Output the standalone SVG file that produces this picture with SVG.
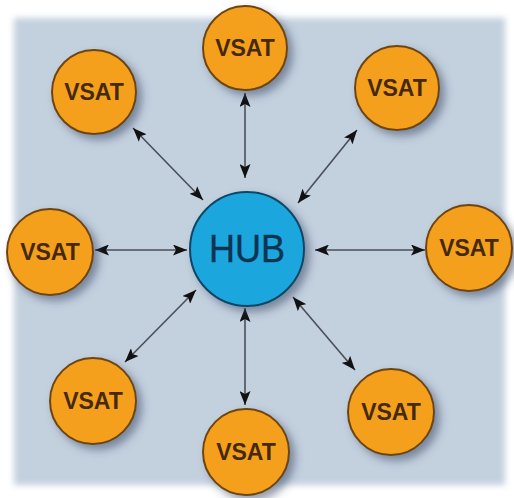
<svg xmlns="http://www.w3.org/2000/svg" width="514" height="498" viewBox="0 0 514 498">
<style>
.vsat circle{fill:#f5a01f;stroke:#6e4510;stroke-width:2}
.vsat text{font-family:"Liberation Sans",Arial,sans-serif;font-weight:bold;font-size:23px;fill:#45290a;text-anchor:middle}
.hub circle{fill:#1fa6de;stroke:#0c4766;stroke-width:2}
.hub text{font-family:"Liberation Sans",Arial,sans-serif;font-size:38px;fill:#0e3450;text-anchor:middle;stroke:#0e3450;stroke-width:0.4}
#connectors line{stroke:#4a4f58;stroke-width:1.6;marker-start:url(#ah);marker-end:url(#ah)}
</style>
<defs>
<filter id="panelblur" x="-5%" y="-5%" width="110%" height="110%"><feGaussianBlur stdDeviation="3"/></filter>
<filter id="sh" x="-30%" y="-30%" width="170%" height="170%">
<feGaussianBlur in="SourceAlpha" stdDeviation="4"/>
<feOffset dx="5" dy="5" result="b"/>
<feFlood flood-color="#3a4a66" flood-opacity="0.55"/>
<feComposite in2="b" operator="in"/>
<feMerge><feMergeNode/><feMergeNode in="SourceGraphic"/></feMerge>
</filter>
<marker id="ah" viewBox="0 0 14 11" refX="14" refY="5.5" markerWidth="14" markerHeight="11" markerUnits="userSpaceOnUse" orient="auto-start-reverse">
<path d="M0,0 L14,5.5 L0,11 L3,5.5 Z" fill="#111"/>
</marker>
</defs>
<rect width="514" height="498" fill="#ffffff"/>
<rect x="14" y="18" width="491" height="467" fill="#c3d0de" filter="url(#panelblur)"/>
<g id="connectors">
<line x1="245" y1="93" x2="245" y2="178"/>
<line x1="133" y1="128" x2="203" y2="200"/>
<line x1="357" y1="130" x2="298" y2="203"/>
<line x1="95" y1="250" x2="187" y2="250"/>
<line x1="315" y1="250" x2="425" y2="250"/>
<line x1="196" y1="290" x2="125" y2="362"/>
<line x1="245" y1="308" x2="245" y2="405"/>
<line x1="293" y1="297" x2="355" y2="370"/>
</g>
<g id="hub" class="hub"><circle cx="247" cy="249" r="57" filter="url(#sh)"/><text x="247" y="262" textLength="76" lengthAdjust="spacingAndGlyphs">HUB</text></g>
<g id="vsat-top" class="vsat"><circle cx="245" cy="48" r="42" filter="url(#sh)"/><text x="245" y="56">VSAT</text></g>
<g id="vsat-top-left" class="vsat"><circle cx="94" cy="92" r="42" filter="url(#sh)"/><text x="94" y="100">VSAT</text></g>
<g id="vsat-top-right" class="vsat"><circle cx="397" cy="88" r="42" filter="url(#sh)"/><text x="397" y="96">VSAT</text></g>
<g id="vsat-left" class="vsat"><circle cx="50" cy="252" r="43" filter="url(#sh)"/><text x="50" y="260">VSAT</text></g>
<g id="vsat-right" class="vsat"><circle cx="469" cy="248" r="43" filter="url(#sh)"/><text x="469" y="256">VSAT</text></g>
<g id="vsat-bottom-left" class="vsat"><circle cx="93" cy="401" r="43" filter="url(#sh)"/><text x="93" y="409">VSAT</text></g>
<g id="vsat-bottom" class="vsat"><circle cx="246" cy="452" r="43" filter="url(#sh)"/><text x="246" y="460">VSAT</text></g>
<g id="vsat-bottom-right" class="vsat"><circle cx="391" cy="412" r="43" filter="url(#sh)"/><text x="391" y="420">VSAT</text></g>
</svg>
